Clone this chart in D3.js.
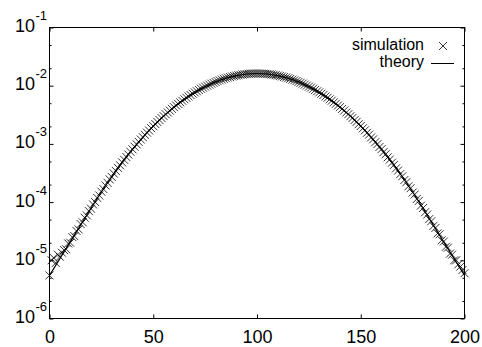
<!DOCTYPE html>
<html>
<head>
<meta charset="utf-8">
<script src="https://cdn.jsdelivr.net/npm/d3@7"></script>
<style>
  body { margin: 0; background: #fff; }
  text { font-family: "Liberation Sans", Arial, sans-serif; fill: #000; }
</style>
</head>
<body>
<div id="chart"></div>
<script>
// tick values
const xTicks = [0, 50, 100, 150, 200];
const yExps = [-6, -5, -4, -3, -2, -1];
const yMinor = [2e-6, 5e-6, 2e-5, 5e-5, 2e-4, 5e-4, 2e-3, 5e-3, 2e-2, 5e-2];

// theory curve, one value every 5 steps (x = 0, 5, ... 200)
const theoryX = [0, 5, 10, 15, 20, 25, 30, 35, 40, 45, 50, 55, 60, 65, 70, 75, 80, 85, 90, 95, 100,
  105, 110, 115, 120, 125, 130, 135, 140, 145, 150, 155, 160, 165, 170, 175, 180, 185, 190, 195, 200];
const theoryY = [5.51e-6, 1.07e-5, 2.07e-5, 4.02e-5, 7.83e-5, 1.49e-4, 2.73e-4, 4.80e-4, 8.07e-4, 1.30e-3,
  2.02e-3, 3.00e-3, 4.28e-3, 5.84e-3, 7.66e-3, 9.63e-3, 1.162e-2, 1.344e-2, 1.492e-2, 1.589e-2, 1.622e-2,
  1.589e-2, 1.492e-2, 1.344e-2, 1.162e-2, 9.63e-3, 7.66e-3, 5.84e-3, 4.28e-3, 3.00e-3, 2.02e-3,
  1.30e-3, 8.07e-4, 4.80e-4, 2.73e-4, 1.49e-4, 7.83e-5, 4.02e-5, 2.07e-5, 1.07e-5, 5.51e-6];

// simulation, one value per x = 0 .. 200
const simY = [
  5.5e-6, 1.0e-5, 1.1e-5, 9.0e-6, 1.25e-5, 1.15e-5, 1.35e-5, 1.5e-5, 1.55e-5, 1.95e-5,
  2.0e-5, 2.5e-5, 2.6e-5, 3.2e-5, 3.4e-5, 4.2e-5, 4.5e-5, 5.4e-5, 5.9e-5, 7.0e-5,
  7.7e-5, 9.1e-5, 1.00e-4, 1.18e-4, 1.30e-4, 1.51e-4, 1.67e-4, 1.93e-4, 2.14e-4, 2.45e-4,
  2.71e-4, 3.09e-4, 3.42e-4, 3.87e-4, 4.28e-4, 4.82e-4, 5.32e-4, 5.96e-4, 6.57e-4, 7.32e-4,
  8.05e-4, 8.94e-4, 9.81e-4, 1.082e-3, 1.188e-3, 1.302e-3, 1.428e-3, 1.562e-3, 1.698e-3, 1.862e-3,
  2.018e-3, 2.192e-3, 2.378e-3, 2.572e-3, 2.778e-3, 3.002e-3, 3.228e-3, 3.472e-3, 3.728e-3, 4.002e-3,
  4.278e-3, 4.572e-3, 4.868e-3, 5.182e-3, 5.508e-3, 5.842e-3, 6.188e-3, 6.542e-3, 6.908e-3, 7.282e-3,
  7.658e-3, 8.042e-3, 8.438e-3, 8.842e-3, 9.228e-3, 9.632e-3, 1.0032e-2, 1.0438e-2, 1.0832e-2, 1.1228e-2,
  1.1622e-2, 1.2008e-2, 1.2382e-2, 1.2738e-2, 1.3102e-2, 1.3438e-2, 1.3772e-2, 1.4078e-2, 1.4382e-2, 1.4658e-2,
  1.4922e-2, 1.5158e-2, 1.5372e-2, 1.5568e-2, 1.5742e-2, 1.5888e-2, 1.6012e-2, 1.6098e-2, 1.6172e-2, 1.6208e-2,
  1.6218e-2,
  1.620e-2, 1.618e-2, 1.609e-2, 1.602e-2, 1.588e-2, 1.575e-2, 1.556e-2, 1.538e-2, 1.515e-2, 1.493e-2,
  1.465e-2, 1.439e-2, 1.407e-2, 1.378e-2, 1.343e-2, 1.311e-2, 1.273e-2, 1.239e-2, 1.200e-2, 1.163e-2,
  1.122e-2, 1.084e-2, 1.043e-2, 1.004e-2, 9.62e-3, 9.24e-3, 8.83e-3, 8.45e-3, 8.03e-3, 7.67e-3,
  7.27e-3, 6.92e-3, 6.53e-3, 6.20e-3, 5.83e-3, 5.52e-3, 5.17e-3, 4.88e-3, 4.56e-3, 4.29e-3,
  3.99e-3, 3.74e-3, 3.46e-3, 3.24e-3, 2.99e-3, 2.79e-3, 2.56e-3, 2.39e-3, 2.18e-3, 2.03e-3,
  1.85e-3, 1.71e-3, 1.55e-3, 1.44e-3, 1.29e-3, 1.20e-3, 1.07e-3, 9.90e-4, 8.85e-4, 8.12e-4,
  7.24e-4, 6.64e-4, 5.88e-4, 5.39e-4, 4.74e-4, 4.35e-4, 3.80e-4, 3.49e-4, 3.02e-4, 2.78e-4,
  2.39e-4, 2.20e-4, 1.87e-4, 1.73e-4, 1.46e-4, 1.35e-4, 1.13e-4, 1.05e-4, 8.7e-5, 7.9e-5,
  6.7e-5, 6.1e-5, 5.1e-5, 4.7e-5, 3.9e-5, 3.6e-5, 2.9e-5, 2.8e-5, 2.2e-5, 2.1e-5,
  1.7e-5, 1.65e-5, 1.3e-5, 1.25e-5, 1.0e-5, 1.0e-5, 8.5e-6, 7.8e-6, 6.8e-6, 6.0e-6
];

const legendLabels = ["simulation", "theory"];

(function chart() {
  let width = 482, height = 347,
    margin = ({ top: 27.5, right: 17.5, bottom: 28.5, left: 49.5 });

  const svg = d3.select("#chart")
    .append("svg")
    .attr("width", width)
    .attr("height", height);

  let x = d3.scaleLinear([0, 200], [margin.left, width - margin.right]);
  let y = d3.scaleLog([1e-6, 1e-1], [height - margin.bottom, margin.top]);

  const cross = "M-4,-4L4,4M-4,4L4,-4";

  // theory line
  const line = d3.line()
    .x((d, i) => x(theoryX[i]))
    .y(d => y(d))
    .curve(d3.curveMonotoneX);

  svg.append("path")
    .datum(theoryY)
    .attr("fill", "none")
    .attr("stroke", "#000")
    .attr("stroke-width", 1.1)
    .attr("d", line);

  // simulation crosses
  svg.append("g")
    .selectAll("path")
    .data(simY)
    .join("path")
    .attr("transform", (d, i) => `translate(${x(i)},${y(d)})`)
    .attr("d", cross)
    .attr("fill", "none")
    .attr("stroke", "#000")
    .attr("stroke-width", 0.8);

  // frame
  svg.append("rect")
    .attr("x", margin.left)
    .attr("y", margin.top)
    .attr("width", width - margin.left - margin.right)
    .attr("height", height - margin.top - margin.bottom)
    .attr("fill", "none")
    .attr("stroke", "#000");

  // x axes (inward ticks, mirrored on top)
  const xb = svg.append("g")
    .attr("transform", `translate(0,${height - margin.bottom})`)
    .call(d3.axisBottom(x).tickValues(xTicks).tickSize(-4).tickPadding(12).tickFormat(d3.format("d")));
  xb.select(".domain").remove();
  xb.selectAll("text").style("font-size", "18px").attr("font-family", null);

  const xt = svg.append("g")
    .attr("transform", `translate(0,${margin.top})`)
    .call(d3.axisTop(x).tickValues(xTicks).tickSize(-4).tickFormat(""));
  xt.select(".domain").remove();

  // y axes: decades and minor ticks, both sides
  const majors = yExps.map(e => Math.pow(10, e));
  [[d3.axisLeft, margin.left], [d3.axisRight, width - margin.right]].forEach(([ax, pos]) => {
    const g1 = svg.append("g").attr("transform", `translate(${pos},0)`)
      .call(ax(y).tickValues(majors).tickSize(-4).tickFormat(""));
    g1.select(".domain").remove();
    const g2 = svg.append("g").attr("transform", `translate(${pos},0)`)
      .call(ax(y).tickValues(yMinor).tickSize(-2).tickFormat(""));
    g2.select(".domain").remove();
  });

  // y labels 10^n
  const lab = svg.append("g").selectAll("g")
    .data(yExps)
    .join("g")
    .attr("transform", d => `translate(0,${y(Math.pow(10, d))})`);
  lab.append("text")
    .attr("x", 35)
    .attr("y", 4.5)
    .attr("text-anchor", "end")
    .style("font-size", "18px")
    .text("10");
  lab.append("text")
    .attr("x", 35.5)
    .attr("y", -7.5)
    .style("font-size", "13px")
    .text(d => `${d}`);

  // legend
  svg.append("text").attr("x", 424).attr("y", 50).attr("text-anchor", "end")
    .style("font-size", "16px").text(legendLabels[0]);
  svg.append("path").attr("transform", "translate(443,46)").attr("d", cross)
    .attr("fill", "none").attr("stroke", "#000").attr("stroke-width", 0.8);
  svg.append("text").attr("x", 424).attr("y", 67).attr("text-anchor", "end")
    .style("font-size", "16px").text(legendLabels[1]);
  svg.append("line").attr("x1", 431).attr("x2", 454).attr("y1", 63.5).attr("y2", 63.5)
    .attr("stroke", "#000").attr("stroke-width", 1);
})();
</script>
</body>
</html>
